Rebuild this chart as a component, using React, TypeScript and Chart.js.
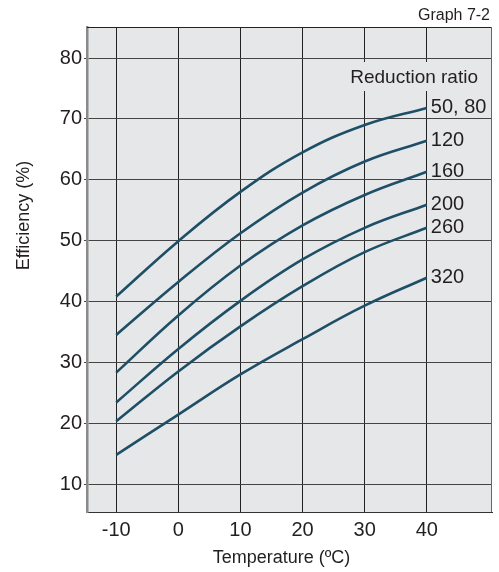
import React, { useEffect, useRef } from 'react';
import { Chart, registerables } from 'chart.js';

Chart.register(...registerables);

// ---- data ----
const temperatures = [-10, 0, 10, 20, 30, 40];
const ratioNames = ['50, 80', '120', '160', '200', '260', '320'];
const eff50_80 = [40.8, 49.9, 58.0, 64.5, 69.0, 71.8];
const eff120 = [34.5, 43.2, 51.2, 57.9, 63.0, 66.4];
const eff160 = [28.3, 37.7, 45.9, 52.5, 57.5, 61.3];
const eff200 = [23.4, 32.2, 40.1, 46.9, 52.1, 55.9];
const eff260 = [20.3, 28.5, 35.9, 42.5, 48.1, 52.1];
const eff320 = [14.8, 21.4, 28.0, 33.8, 39.3, 43.9];
const seriesValues = [eff50_80, eff120, eff160, eff200, eff260, eff320];
const xTickValues = [-10, 0, 10, 20, 30, 40];
const yTickValues = [10, 20, 30, 40, 50, 60, 70, 80];

const FONT = '"Liberation Sans", Arial, Helvetica, sans-serif';
const TEXT = '#231f20';
const CURVE = '#1e4f66';
const PLOT_BG = '#e6e7e9';

const decoPlugin = {
  id: 'deco',
  beforeDraw(chart: any) {
    const { ctx, chartArea: a } = chart;
    ctx.save();
    ctx.fillStyle = PLOT_BG;
    ctx.fillRect(a.left, a.top, a.right - a.left, a.bottom - a.top);
    ctx.restore();
  },
  afterDraw(chart: any) {
    const { ctx, chartArea: a } = chart;
    const xs = chart.scales.x;
    const ys = chart.scales.y;
    ctx.save();
    // frame top / right
    ctx.strokeStyle = '#222';
    ctx.lineWidth = 1;
    ctx.beginPath();
    ctx.moveTo(a.left, a.top + 0.5);
    ctx.lineTo(a.right, a.top + 0.5);
    ctx.stroke();
    ctx.strokeStyle = '#666';
    ctx.beginPath();
    ctx.moveTo(a.right - 0.5, a.top);
    ctx.lineTo(a.right - 0.5, a.bottom);
    ctx.stroke();

    // "Reduction ratio" header with background box
    ctx.font = `19px ${FONT}`;
    const hdr = 'Reduction ratio';
    const hw = ctx.measureText(hdr).width;
    const hRight = a.right - 14;
    ctx.fillStyle = PLOT_BG;
    ctx.fillRect(hRight - hw - 5, 62, hw + 10, 29);
    ctx.fillStyle = TEXT;
    ctx.textAlign = 'right';
    ctx.textBaseline = 'alphabetic';
    ctx.fillText(hdr, hRight, 83);

    // curve labels
    ctx.font = `20px ${FONT}`;
    ctx.textAlign = 'left';
    const lx = xs.getPixelForValue(temperatures[temperatures.length - 1]) + 4;
    ratioNames.forEach((name, i) => {
      const v = seriesValues[i][seriesValues[i].length - 1];
      const py = ys.getPixelForValue(v);
      ctx.fillText(name, lx, py + 5.5);
    });

    // Graph 7-2
    ctx.font = `16px ${FONT}`;
    ctx.textAlign = 'right';
    ctx.fillText('Graph 7-2', 490, 19.5);

    // axis titles
    ctx.font = `18px ${FONT}`;
    ctx.textAlign = 'center';
    ctx.fillText('Temperature (ºC)', 281.5, 563);
    ctx.translate(29, 215.5);
    ctx.rotate(-Math.PI / 2);
    ctx.fillText('Efficiency (%)', 0, 0);
    ctx.restore();
  },
};

export default function App() {
  const ref = useRef<HTMLCanvasElement | null>(null);
  useEffect(() => {
    if (!ref.current) return;
    const chart = new Chart(ref.current, {
      type: 'line',
      data: {
        datasets: ratioNames.map((name, i) => ({
          label: name,
          data: temperatures.map((t, j) => ({ x: t, y: seriesValues[i][j] })),
          borderColor: CURVE,
          borderWidth: 2.6,
          pointRadius: 0,
          fill: false,
          tension: 0.4,
        })),
      },
      options: {
        animation: false,
        responsive: true,
        maintainAspectRatio: false,
        layout: { padding: { left: 0, top: 27, right: 7, bottom: 0 } },
        plugins: { legend: { display: false }, tooltip: { enabled: false } },
        scales: {
          x: {
            type: 'linear',
            min: -14.7,
            max: 50.5,
            afterBuildTicks: (s: any) => {
              s.ticks = xTickValues.map((v) => ({ value: v }));
            },
            afterFit: (s: any) => {
              s.height = 60;
            },
            grid: { color: '#222', lineWidth: 1, drawTicks: false },
            border: { display: true, color: '#333', width: 1 },
            ticks: {
              font: { size: 20, family: FONT },
              color: TEXT,
              padding: 6,
              callback: (v: any) => String(v),
            },
          },
          y: {
            type: 'linear',
            min: 5.4,
            max: 85.1,
            afterBuildTicks: (s: any) => {
              s.ticks = yTickValues.map((v) => ({ value: v }));
            },
            afterFit: (s: any) => {
              s.width = 87;
            },
            grid: { color: '#444', lineWidth: 1, tickLength: 3 },
            border: { display: true, color: '#8a8a8a', width: 2.5 },
            ticks: {
              font: { size: 20, family: FONT },
              color: TEXT,
              padding: 2,
              callback: (v: any) => String(v),
            },
          },
        },
      },
      plugins: [decoPlugin],
    });
    return () => chart.destroy();
  }, []);
  return (
    <div style={{ position: 'absolute', left: 0, top: 0, width: 499, height: 572, background: '#fff' }}>
      <canvas ref={ref} />
    </div>
  );
}
